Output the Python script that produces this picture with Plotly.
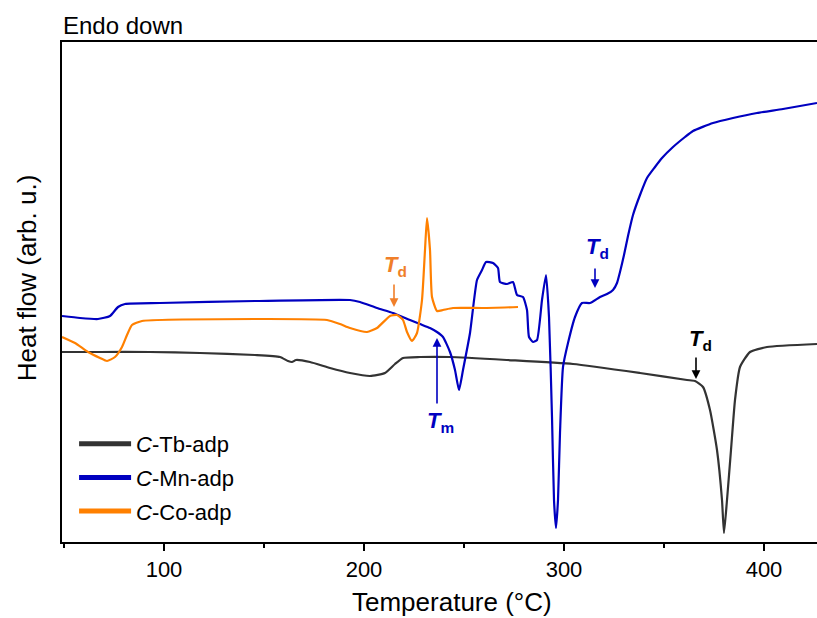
import plotly.graph_objects as go

# ---- Data (Temperature °C, heat flow arb. u.) ----
tb_T = [49, 68, 93, 118, 145.5, 158, 162, 164, 166, 173, 183, 193, 203, 210.5, 215.5, 219.5, 228, 243,
        271.5, 304.5, 338, 361.5, 365.5, 369.5, 373, 376.5, 379, 380, 381.5, 383.5, 385.5, 388, 393, 401.5, 426.5]
tb_H = [38.0, 38.0, 38.0, 37.8, 37.4, 37.0, 36.2, 36.0, 36.4, 36.0, 34.8, 33.8, 33.2, 33.8, 35.6, 36.8, 37.0, 37.0,
        36.4, 35.6, 33.8, 32.4, 32.2, 31.0, 26.4, 18.4, 8.4, 1.8, 8.4, 18.4, 28.4, 35.0, 38.0, 39.0, 39.6]

mn_T = [49, 58, 67, 73, 77, 80.5, 98, 145.5, 193, 198, 206.5, 214.5, 223, 228, 233, 236.5, 239.5, 243, 245.5,
        247.5, 249.5, 253, 256.5, 259, 261, 264.5, 267, 268, 271.5, 274.5, 276.5, 279.5, 281.5, 282.5, 284.5,
        286.5, 289, 291, 292.5, 294, 295, 296, 297, 298, 299.5, 302, 305.5, 309, 313, 318, 321.5, 324.5, 326.5,
        328, 330, 332, 334.5, 338, 341.5, 345.5, 349, 354.5, 360.5, 364.5, 374.5, 384.5, 396.5, 409.5, 426.5]
mn_H = [45.2, 44.8, 44.6, 45.2, 47.0, 47.6, 47.8, 48.2, 48.4, 48.0, 46.8, 45.8, 44.4, 43.6, 42.8, 42.0, 41.0, 38.0, 34.4,
        30.4, 34.4, 41.8, 52.4, 54.4, 56.0, 55.8, 54.8, 52.0, 51.6, 52.0, 49.4, 49.0, 46.4, 41.0, 40.0,
        40.4, 48.4, 53.4, 45.0, 25.0, 8.4, 2.8, 8.4, 21.8, 35.0, 39.8, 45.0, 47.8, 47.8, 49.0, 49.6, 50.4, 51.8,
        54.0, 57.4, 61.2, 65.4, 69.4, 72.8, 75.0, 76.8, 79.0, 81.0, 82.2, 83.8, 84.8, 85.8, 86.6, 87.8]

co_T = [49, 55.5, 62, 68, 71.5, 75.5, 79, 81.5, 84, 89, 145.5, 181.5, 188, 193, 201.5, 206.5, 213, 216.5, 219.5,
        221.5, 224, 226.5, 229, 230.5, 231.5, 233, 234, 236.5, 239.5, 244.5, 259.5, 277]
co_H = [41.0, 39.8, 38.0, 36.8, 36.2, 37.0, 39.0, 41.4, 43.4, 44.2, 44.6, 44.4, 43.6, 42.8, 42.0, 42.8, 45.2, 45.4, 44.4,
        42.0, 40.2, 41.8, 48.4, 58.4, 64.8, 58.4, 49.0, 46.2, 46.4, 46.8, 46.8, 47.0]

names = ["<i>C</i>-Tb-adp", "<i>C</i>-Mn-adp", "<i>C</i>-Co-adp"]
colors = ["#333333", "#0000C0", "#FF8000"]
tick_vals = [100, 200, 300, 400]
tick_text = ["100", "200", "300", "400"]

FONT = "Arial, Liberation Sans, sans-serif"

fig = go.Figure()
for T, H, c in [(tb_T, tb_H, colors[0]), (mn_T, mn_H, colors[1]), (co_T, co_H, colors[2])]:
    fig.add_trace(go.Scatter(x=T, y=H, mode="lines", showlegend=False,
                             line=dict(color=c, width=2.2, shape="spline", smoothing=0.5)))
# legend entries (thicker sample lines)
for i, (n, c) in enumerate(zip(names, colors)):
    fig.add_trace(go.Scatter(x=[None], y=[None], mode="lines", name=n, legendgroup=str(i),
                             line=dict(color=c, width=5)))

ann = []
def arrow(x, y_from, y_to, color):
    ann.append(dict(x=x, y=y_to, ax=x, ay=y_from, xref="x", yref="y", axref="x", ayref="y",
                    showarrow=True, arrowhead=2, arrowsize=1.1, arrowwidth=1.6, arrowcolor=color, text=""))

def label(x, y, sub, color):
    ann.append(dict(x=x, y=y, text="<b><i>T</i><sub>%s</sub></b>" % sub, showarrow=False,
                    font=dict(size=22, color=color, family=FONT)))

ORANGE_T = "#F07F2A"
label(215.5, 55.2, "d", ORANGE_T); arrow(215, 51.8, 47.0, ORANGE_T)
label(316.5, 58.8, "d", "#0000C0"); arrow(315.5, 55.0, 50.8, "#0000C0")
label(368, 40.4, "d", "black"); arrow(366, 37.2, 32.6, "black")
label(238, 24, "m", "#0000C0"); arrow(236.5, 27.4, 40.8, "#0000C0")

# Endo down
ann.append(dict(x=0, y=1, xref="paper", yref="paper", xanchor="left", yanchor="bottom", yshift=1, xshift=-1,
                text="Endo down", showarrow=False, font=dict(size=24, color="black", family=FONT)))
# Y title
ann.append(dict(x=-0.046, y=0.528, xref="paper", yref="paper", xanchor="center", yanchor="middle",
                textangle=-90, showarrow=False,
                text="Heat flow (arb. u.)", font=dict(size=26, color="black", family=FONT)))
# X title (the reference's plot area is cropped at the right, so its title is centred further right)
ann.append(dict(x=0.5166, y=-0.12, xref="paper", yref="paper", xanchor="center", yanchor="middle",
                showarrow=False, text="Temperature (°C)", font=dict(size=26, color="black", family=FONT)))

fig.update_layout(
    width=817, height=618,
    margin=dict(l=62, r=0, t=42, b=76),
    paper_bgcolor="white", plot_bgcolor="white",
    font=dict(family=FONT, color="black"),
    annotations=ann,
    legend=dict(x=0.016, y=0.238, xanchor="left", yanchor="top", bgcolor="rgba(0,0,0,0)",
                font=dict(size=22, family=FONT, color="black"), tracegroupgap=2,
                itemwidth=52),
    xaxis=dict(range=[49, 426.5], tickvals=tick_vals, ticktext=tick_text, ticks="outside", ticklen=7,
               tickwidth=2, tickcolor="black", showline=True, linewidth=2, linecolor="black", mirror=True,
               showgrid=False, zeroline=False, tickfont=dict(size=22, family=FONT),
               minor=dict(dtick=50, tick0=50, ticks="outside", ticklen=4, tickwidth=2, tickcolor="black")),
    yaxis=dict(range=[0, 100], showticklabels=False, ticks="", showline=True, linewidth=2,
               linecolor="black", showgrid=False, zeroline=False),
)

fig.write_html("out.html", config={"displayModeBar": False},
               post_script="document.body.style.margin='0';document.body.style.overflow='hidden';")
